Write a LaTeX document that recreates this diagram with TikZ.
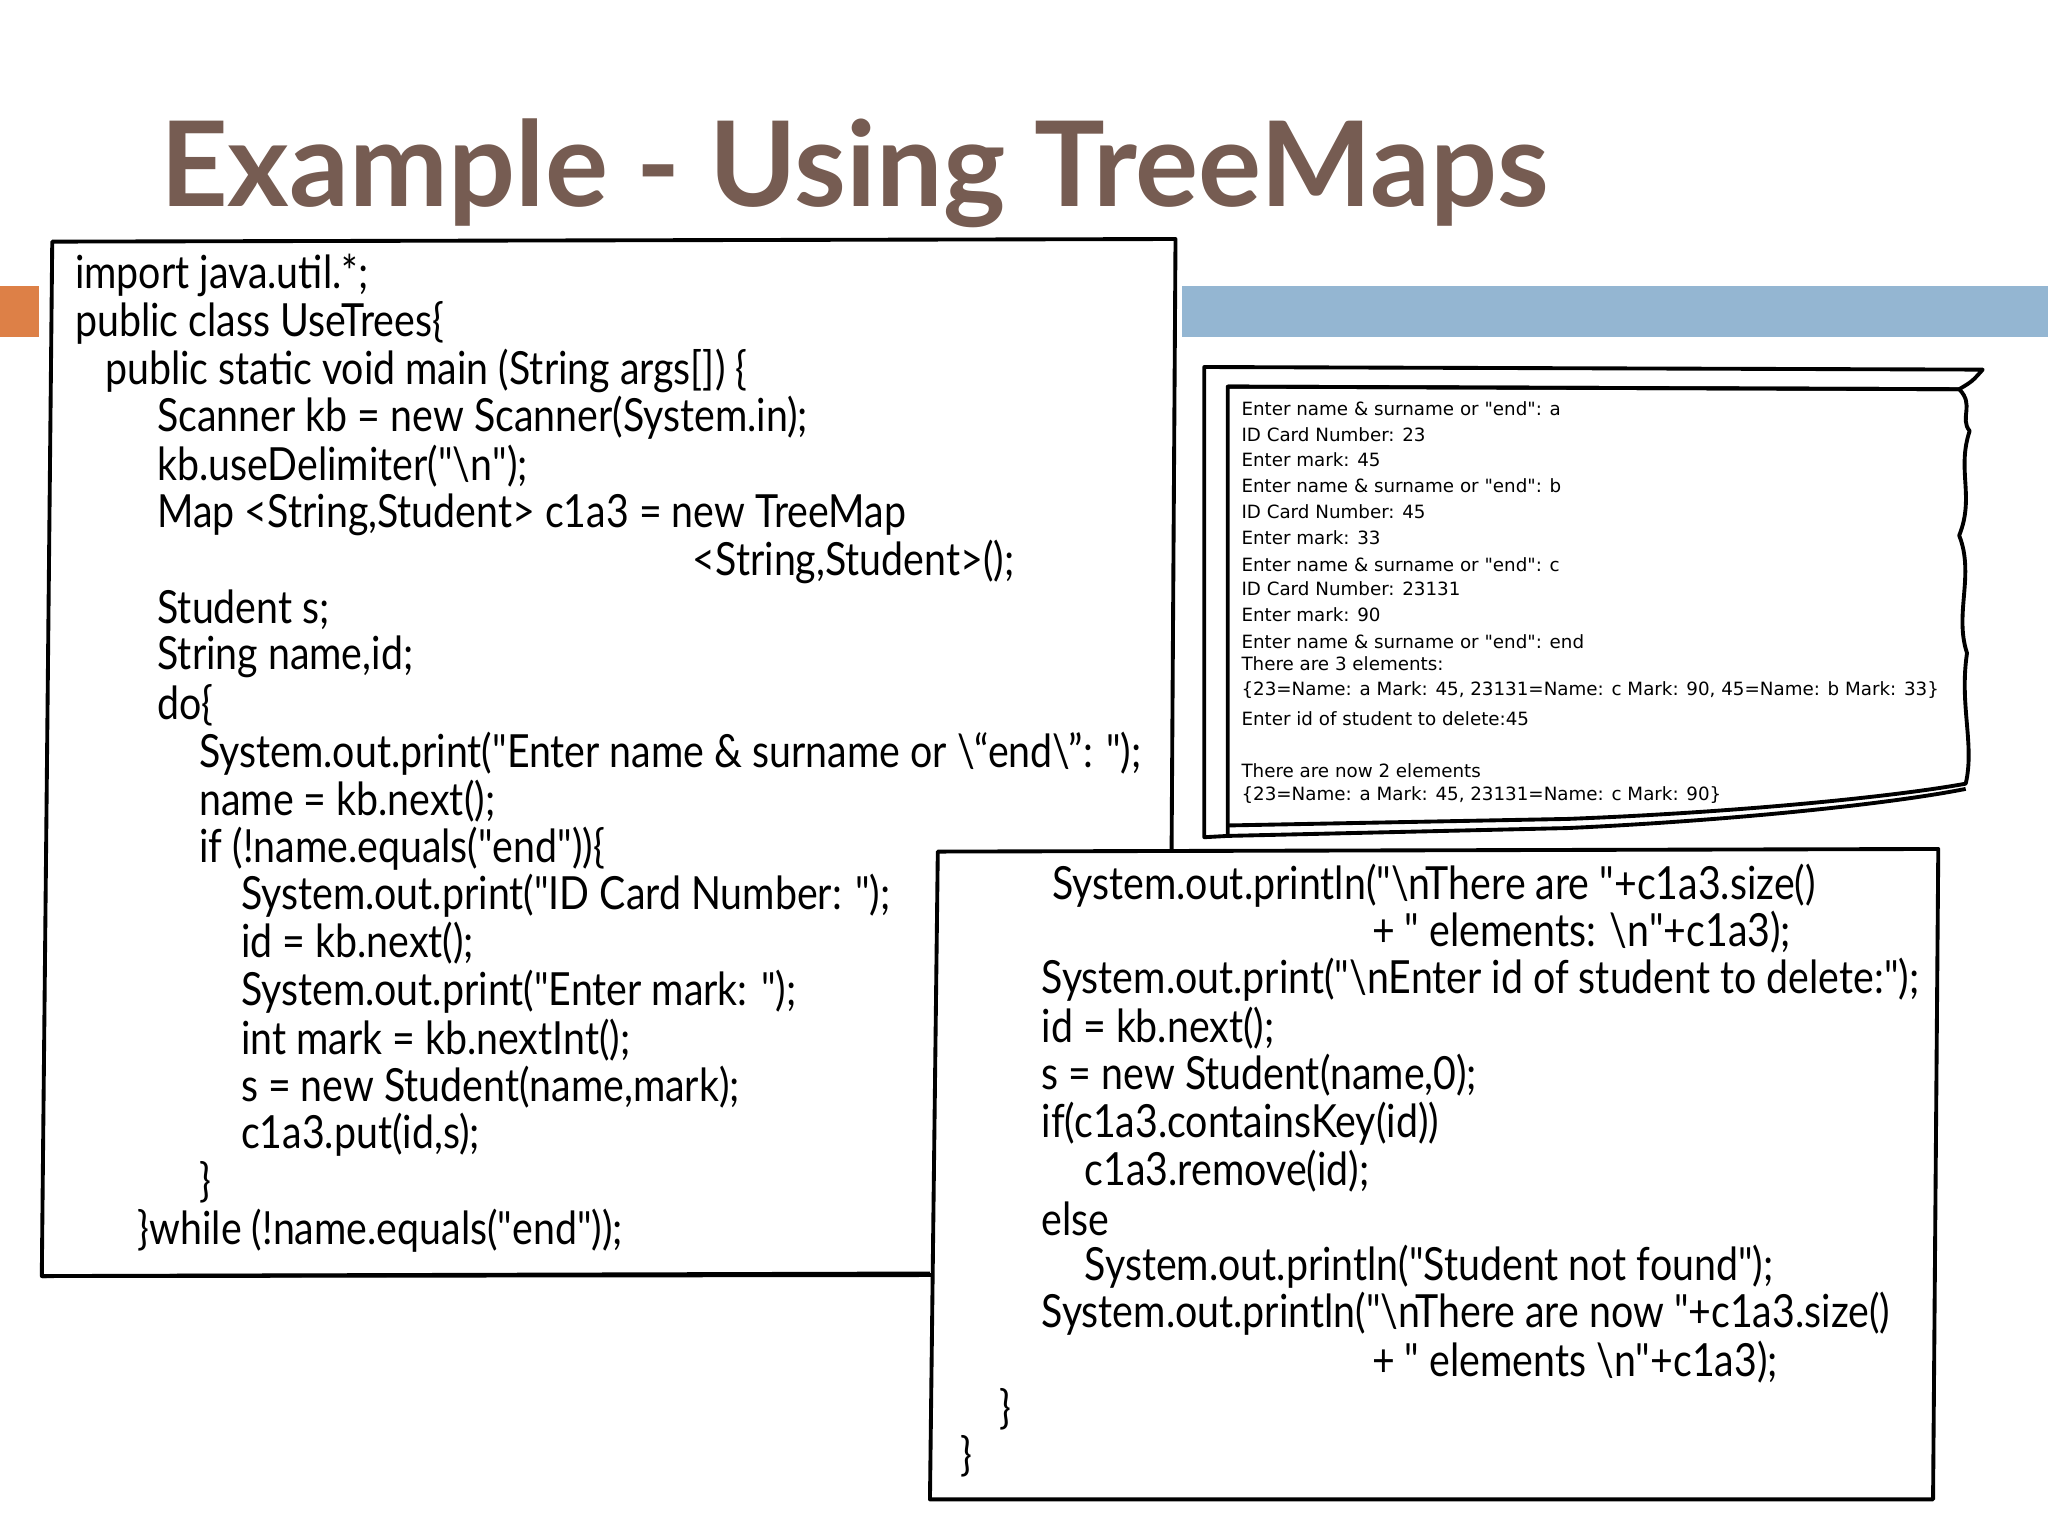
\documentclass[tikz,border=0pt]{standalone}
\usepackage{graphicx}
\usepackage{fontspec}
\setmainfont{Lato}
\newfontfamily\consfont{DejaVu Sans}
\definecolor{titlebrown}{HTML}{765C52}
\definecolor{accorange}{HTML}{DD8047}
\definecolor{accblue}{HTML}{94B6D2}
\newcommand{\q}{\textquotedbl}
\newcommand{\cl}[4]{\node[code] (#1) at (#2,#3) {\scalebox{0.86}[1]{#4}};}
\newcommand{\co}[3]{\node[cons] (#1) at (950,#2) {#3};}
\begin{document}
\begin{tikzpicture}[x=0.013061cm,y=-0.013061cm,
  code/.style={anchor=west,inner sep=0pt,font=\fontsize{13}{15}\selectfont},
  cons/.style={anchor=west,inner sep=0pt,font=\consfont\fontsize{5.2}{6}\selectfont},
  frame/.style={draw=black,line width=1.1pt,line join=round}]
\useasboundingbox (0,0) rectangle (1568,1176);
\fill[accorange] (0,219) rectangle (30,258);
\fill[accblue] (905,219) rectangle (1568,258);
\node[anchor=base west,inner sep=0pt,text=titlebrown,font=\fontsize{33.6}{36}\bfseries\selectfont] (title) at (122,158) {Example - Using TreeMaps};
% left code box
\draw[frame,fill=white] (40,185) -- (900,183) -- (897,650) -- (897,976) -- (32,977) -- cycle;
% console box
\draw[frame,fill=white] (922,281) -- (1518,283) .. controls (1510,292) .. (1500,298) -- (940,296) -- (940,640) -- (922,641) -- cycle;
\draw[frame] (940,296) -- (1500,298) .. controls (1512,310) and (1500,320) .. (1508,330)
  .. controls (1498,360) and (1512,380) .. (1500,410) .. controls (1512,440) and (1496,470) .. (1506,500)
  .. controls (1500,540) and (1512,570) .. (1505,600) .. controls (1450,610) and (1330,622) .. (1200,627) -- (940,632);
\draw[frame] (940,640) -- (1200,634) .. controls (1330,628) and (1450,615) .. (1505,604);
% lower right code box
\draw[frame,fill=white] (718,652) -- (1484,650) -- (1480,1148) -- (712,1148) -- cycle;
\draw[frame] (32,977) -- (712,975);
% left code
\cl{a1}{57}{211}{import java.util.*;}
\cl{a2}{57}{247}{public class UseTrees\{}
\cl{a3}{80}{284}{public static void main (String args[]) \{}
\cl{a4}{120}{320}{Scanner kb = new Scanner(System.in);}
\cl{a5}{120}{357}{kb.useDelimiter(\q\textbackslash n\q);}
\cl{a6}{120}{394}{Map <String,Student> c1a3 = new TreeMap}
\cl{a7}{530}{430}{<String,Student>();}
\cl{a8}{120}{467}{Student  s;}
\cl{a9}{120}{503}{String name,id;}
\cl{a10}{120}{540}{do\{}
\cl{a11}{152}{577}{System.out.print(\q Enter name \& surname or \textbackslash“end\textbackslash”: \q);}
\cl{a12}{152}{613}{name = kb.next();}
\cl{a13}{152}{650}{if (!name.equals(\q end\q))\{}
\cl{a14}{184}{686}{System.out.print(\q ID Card Number: \q);}
\cl{a15}{184}{722}{id = kb.next();}
\cl{a16}{184}{759}{System.out.print(\q Enter mark: \q);}
\cl{a17}{184}{796}{int mark = kb.nextInt();}
\cl{a18}{184}{832}{s = new Student(name,mark);}
\cl{a19}{184}{869}{c1a3.put(id,s);}
\cl{a20}{152}{905}{\}}
\cl{a21}{105}{942}{\}while (!name.equals(\q end\q));}
% right code
\cl{b1}{805}{678}{System.out.println(\q\textbackslash nThere are \q+c1a3.size()}
\cl{b2}{1050}{714}{+ \q\ elements: \textbackslash n\q+c1a3);}
\cl{b3}{797}{750}{System.out.print(\q\textbackslash nEnter id of student to delete:\q);}
\cl{b4}{797}{787}{id = kb.next();}
\cl{b5}{797}{823}{s = new Student(name,0);}
\cl{b6}{797}{860}{if(c1a3.containsKey(id))}
\cl{b7}{830}{897}{c1a3.remove(id);}
\cl{b8}{797}{933}{else}
\cl{b9}{830}{970}{System.out.println(\q Student not found\q);}
\cl{b10}{797}{1006}{System.out.println(\q\textbackslash nThere are now \q+c1a3.size()}
\cl{b11}{1050}{1043}{+ \q\ elements \textbackslash n\q+c1a3);}
\cl{b12}{765}{1079}{\}}
\cl{b13}{735}{1115}{\}}
% console
\co{c1}{313}{Enter name \& surname or \q end\q: a}
\co{c2}{333}{ID Card Number: 23}
\co{c3}{352}{Enter mark: 45}
\co{c4}{372}{Enter name \& surname or \q end\q: b}
\co{c5}{392}{ID Card Number: 45}
\co{c6}{412}{Enter mark: 33}
\co{c7}{432}{Enter name \& surname or \q end\q: c}
\co{c8}{451}{ID Card Number: 23131}
\co{c9}{471}{Enter mark: 90}
\co{c10}{491}{Enter name \& surname or \q end\q: end}
\co{c11}{508}{There are 3 elements:}
\co{c12}{528}{\{23=Name: a Mark: 45, 23131=Name: c Mark: 90, 45=Name: b Mark: 33\}}
\co{c13}{550}{Enter id of student to delete:45}
\co{c14}{590}{There are now 2 elements}
\co{c15}{609}{\{23=Name: a Mark: 45, 23131=Name: c Mark: 90\}}
\end{tikzpicture}
\end{document}
